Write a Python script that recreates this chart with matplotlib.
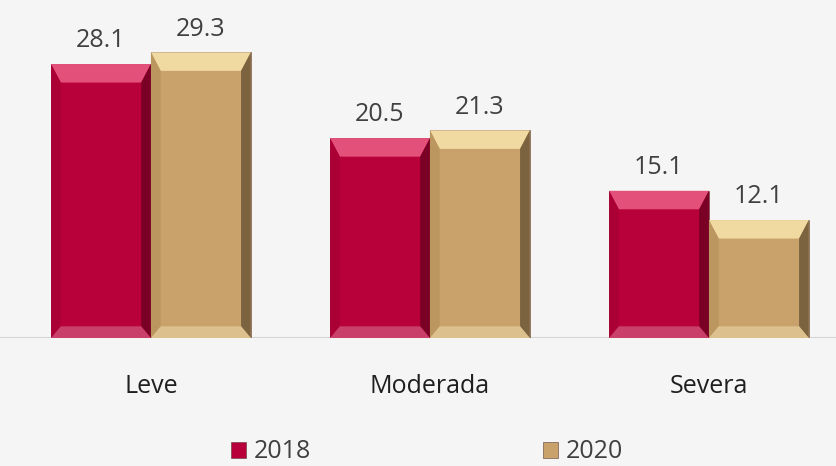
import matplotlib
matplotlib.use("Agg")
import matplotlib.pyplot as plt
import numpy as np

# data
categories = ["Leve", "Moderada", "Severa"]
series_names = ["2018", "2020"]
values_2018 = [28.1, 20.5, 15.1]
values_2020 = [29.3, 21.3, 12.1]

plt.rcParams['font.family'] = ['Open Sans', 'DejaVu Sans']

W, H = 837, 466
fig = plt.figure(figsize=(W / 100, H / 100), dpi=100)
fig.patch.set_facecolor('#f5f5f5')
ax = fig.add_axes([0, (H - 338) / H, 1, 338 / H])
ax.set_facecolor('none')

x = np.arange(len(categories))
bw = 0.358

# face, top, left, right, bottom bevel colours
styles = {
    "2018": ("#b8003a", "#e3507a", "#aa0036", "#7a0026", "#c9406a"),
    "2020": ("#c8a26a", "#f1d9a2", "#bb965f", "#7c6340", "#dcc08e"),
}

def bevel(ax, bar, cols, dx=0.035, dy_top=1.9, dy_bot=1.2):
    x0, y0 = bar.get_x(), bar.get_y()
    x1, y1 = x0 + bar.get_width(), y0 + bar.get_height()
    face, top, left, right, bottom = cols
    ax.fill([x0, x1, x1 - dx, x0 + dx], [y1, y1, y1 - dy_top, y1 - dy_top], color=top, lw=0, zorder=3)
    ax.fill([x0, x0 + dx, x0 + dx, x0], [y0, y0 + dy_bot, y1 - dy_top, y1], color=left, lw=0, zorder=3)
    ax.fill([x1, x1 - dx, x1 - dx, x1], [y0, y0 + dy_bot, y1 - dy_top, y1], color=right, lw=0, zorder=3)
    ax.fill([x0, x1, x1 - dx, x0 + dx], [y0, y0, y0 + dy_bot, y0 + dy_bot], color=bottom, lw=0, zorder=3)

handles = []
for i, (name, vals) in enumerate(zip(series_names, [values_2018, values_2020])):
    cols = styles[name]
    bars = ax.bar(x + (i - 0.5) * bw, vals, bw, color=cols[0], edgecolor='#5a3a30',
                  linewidth=0.4, zorder=2, label=name)
    handles.append(bars)
    for b, v in zip(bars, vals):
        bevel(ax, b, cols)
        ax.text(b.get_x() + b.get_width() / 2, v + 1.1, f"{v}", ha='center', va='bottom',
                fontsize=18, color='#404040')

ax.set_xlim(-0.541, 2.459)
ax.set_ylim(0, 34.67)
ax.axhline(0, color='#d4d4d4', lw=1.5, zorder=1)
for s in ax.spines.values():
    s.set_visible(False)
ax.set_yticks([])
ax.set_xticks(x)
ax.set_xticklabels(categories, fontsize=18, color='#1f1f1f')
ax.tick_params(axis='x', length=0, pad=26)

leg = fig.legend(handles=handles, labels=series_names, loc='center', bbox_to_anchor=(0.51, 1 - 452 / H),
                 ncol=2, frameon=False, fontsize=18, handlelength=0.6, handleheight=0.6,
                 handletextpad=0.3, columnspacing=9.3, labelcolor='#404040')

fig.savefig("out.png", dpi=100, facecolor=fig.get_facecolor())
